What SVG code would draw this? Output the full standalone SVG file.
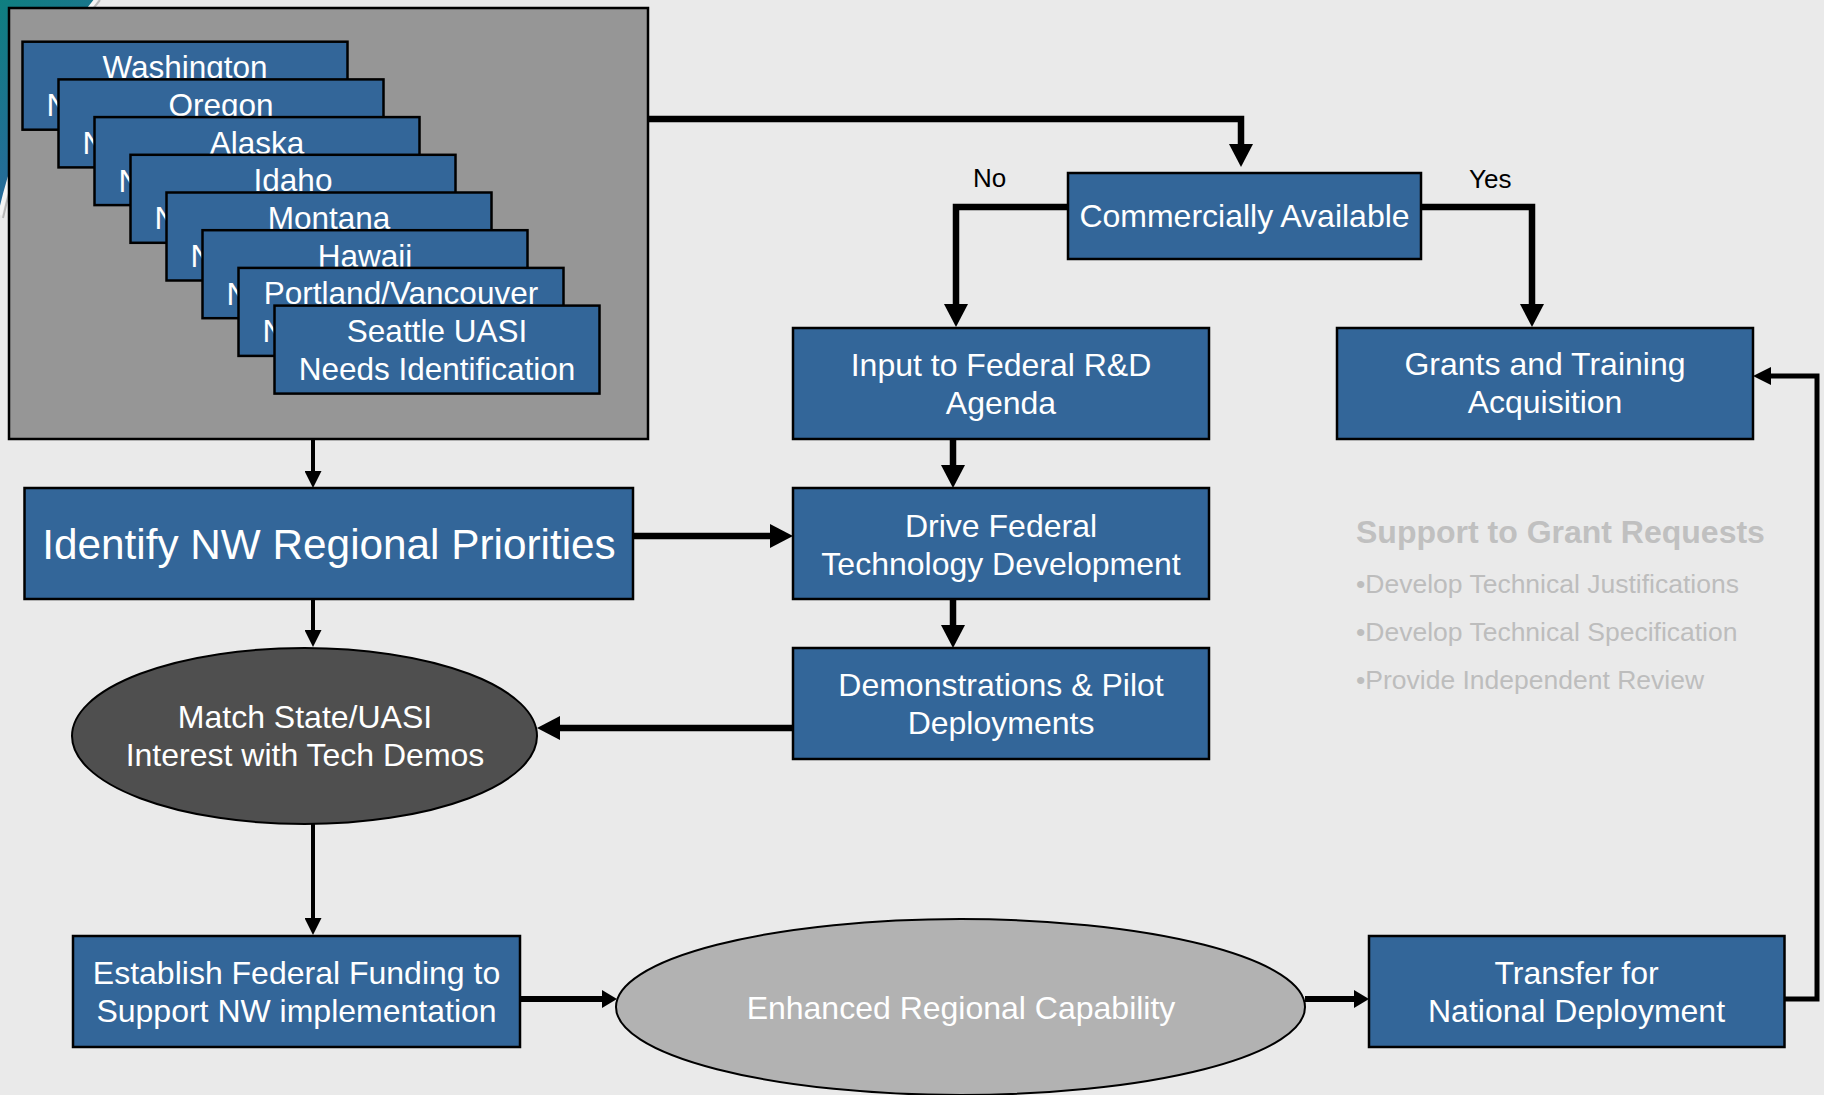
<svg xmlns="http://www.w3.org/2000/svg" width="1824" height="1095" viewBox="0 0 1824 1095">
<style>
  .bg{fill:#eaeaea}
  .box{fill:#336699;stroke:#000;stroke-width:2.5}
  .card{fill:#336699;stroke:#000;stroke-width:2.5}
  .t{font-family:"Liberation Sans",Arial,sans-serif;font-size:32px;fill:#fff;text-anchor:middle}
  .ct{font-family:"Liberation Sans",Arial,sans-serif;font-size:31.5px;fill:#fff;text-anchor:middle}
  .cl{font-family:"Liberation Sans",Arial,sans-serif;font-size:31.5px;fill:#fff}
  .lbl{font-family:"Liberation Sans",Arial,sans-serif;font-size:26px;fill:#000}
  .sup{font-family:"Liberation Sans",Arial,sans-serif;font-size:32px;font-weight:bold;fill:#c0c0c0}
  .bul{font-family:"Liberation Sans",Arial,sans-serif;font-size:26.5px;fill:#bdbdbd}
  .thick{fill:none;stroke:#000;stroke-width:6.5;stroke-linejoin:miter}
  .med{fill:none;stroke:#000;stroke-width:6;stroke-linejoin:miter}
  .thin{fill:none;stroke:#000;stroke-width:4}
  .fb{fill:none;stroke:#000;stroke-width:5;stroke-linejoin:miter}
</style>
<defs>
  <linearGradient id="teal" x1="0" y1="0" x2="0.4" y2="1">
    <stop offset="0" stop-color="#0f7f80"/>
    <stop offset="1" stop-color="#2c66a0"/>
  </linearGradient>
  <marker id="aL" markerUnits="userSpaceOnUse" viewBox="0 0 23 24" markerWidth="23" markerHeight="24" refX="0" refY="12" orient="auto">
    <path d="M0,0 L23,12 L0,24 Z" fill="#000"/>
  </marker>
  <marker id="aM" markerUnits="userSpaceOnUse" viewBox="0 0 15 18" markerWidth="15" markerHeight="18" refX="0" refY="9" orient="auto">
    <path d="M0,0 L15,9 L0,18 Z" fill="#000"/>
  </marker>
  <marker id="aS" markerUnits="userSpaceOnUse" viewBox="0 0 17 17" markerWidth="17" markerHeight="17" refX="0" refY="8.5" orient="auto">
    <path d="M0,0 L17,8.5 L0,17 Z" fill="#000"/>
  </marker>
  <marker id="aF" markerUnits="userSpaceOnUse" viewBox="0 0 18 18" markerWidth="18" markerHeight="18" refX="0" refY="9" orient="auto">
    <path d="M0,0 L18,9 L0,18 Z" fill="#000"/>
  </marker>
</defs>

<rect class="bg" x="0" y="0" width="1824" height="1095"/>
<path d="M0,0 H96 C62,40 16,140 0,215 Z" fill="url(#teal)"/>
<path d="M96,0 C62,40 16,140 0,215" fill="none" stroke="#f4f4f4" stroke-width="4"/>
<path d="M100,0 C66,40 20,140 3,218" fill="none" stroke="#b8b8b8" stroke-width="2"/>

<g id="needs-panel">
  <rect x="9" y="8" width="639" height="431" fill="#969696" stroke="#000" stroke-width="2.5"/>
  <g id="card-washington">
    <rect class="card" x="22.5" y="41.7" width="325" height="88"/>
    <text class="ct" x="185" y="78.2">Washington</text>
    <text class="cl" x="46.5" y="116.2">N</text>
  </g>
  <g id="card-oregon">
    <rect class="card" x="58.5" y="79.4" width="325" height="88"/>
    <text class="ct" x="221" y="115.9">Oregon</text>
    <text class="cl" x="82.5" y="153.9">N</text>
  </g>
  <g id="card-alaska">
    <rect class="card" x="94.5" y="117.1" width="325" height="88"/>
    <text class="ct" x="257" y="153.6">Alaska</text>
    <text class="cl" x="118.5" y="191.6">N</text>
  </g>
  <g id="card-idaho">
    <rect class="card" x="130.5" y="154.8" width="325" height="88"/>
    <text class="ct" x="293" y="191.3">Idaho</text>
    <text class="cl" x="154.5" y="229.3">N</text>
  </g>
  <g id="card-montana">
    <rect class="card" x="166.5" y="192.5" width="325" height="88"/>
    <text class="ct" x="329" y="229">Montana</text>
    <text class="cl" x="190.5" y="267">N</text>
  </g>
  <g id="card-hawaii">
    <rect class="card" x="202.5" y="230.2" width="325" height="88"/>
    <text class="ct" x="365" y="266.7">Hawaii</text>
    <text class="cl" x="226.5" y="304.7">N</text>
  </g>
  <g id="card-portland">
    <rect class="card" x="238.5" y="267.9" width="325" height="88"/>
    <text class="ct" x="401" y="304.4">Portland/Vancouver</text>
    <text class="cl" x="262.5" y="342.4">N</text>
  </g>
  <g id="card-seattle">
    <rect class="card" x="274.5" y="305.6" width="325" height="88"/>
    <text class="ct" x="437" y="342.1">Seattle UASI</text>
    <text class="ct" x="437" y="380.1">Needs Identification</text>
  </g>
</g>

<g id="commercially-available">
  <rect class="box" x="1068" y="173" width="353" height="86"/>
  <text class="t" x="1244.5" y="227">Commercially Available</text>
</g>
<g id="input-federal">
  <rect class="box" x="793" y="328" width="416" height="111"/>
  <text class="t" x="1001" y="376">Input to Federal R&amp;D</text>
  <text class="t" x="1001" y="414">Agenda</text>
</g>
<g id="grants-training">
  <rect class="box" x="1337" y="328" width="416" height="111"/>
  <text class="t" x="1545" y="375">Grants and Training</text>
  <text class="t" x="1545" y="413">Acquisition</text>
</g>
<g id="identify-priorities">
  <rect class="box" x="24.5" y="488" width="608.5" height="111"/>
  <text class="t" x="329" y="559" style="font-size:42.3px">Identify NW Regional Priorities</text>
</g>
<g id="drive-federal">
  <rect class="box" x="793" y="488" width="416" height="111"/>
  <text class="t" x="1001" y="537">Drive Federal</text>
  <text class="t" x="1001" y="575">Technology Development</text>
</g>
<g id="demonstrations">
  <rect class="box" x="793" y="648" width="416" height="111"/>
  <text class="t" x="1001" y="696">Demonstrations &amp; Pilot</text>
  <text class="t" x="1001" y="734">Deployments</text>
</g>
<g id="match-interest">
  <ellipse cx="304.5" cy="736" rx="232.5" ry="88" fill="#4f4f4f" stroke="#000" stroke-width="2"/>
  <text class="t" x="305" y="728">Match State/UASI</text>
  <text class="t" x="305" y="766">Interest with Tech Demos</text>
</g>
<g id="establish-funding">
  <rect class="box" x="73" y="936" width="447" height="111"/>
  <text class="t" x="296.5" y="984">Establish Federal Funding to</text>
  <text class="t" x="296.5" y="1022">Support NW implementation</text>
</g>
<g id="enhanced-capability">
  <ellipse cx="960.5" cy="1007" rx="344.5" ry="88" fill="#b2b2b2" stroke="#000" stroke-width="2"/>
  <text class="t" x="961" y="1019">Enhanced Regional Capability</text>
</g>
<g id="transfer-national">
  <rect class="box" x="1369" y="936" width="415.5" height="111"/>
  <text class="t" x="1576.5" y="984">Transfer for</text>
  <text class="t" x="1576.5" y="1022">National Deployment</text>
</g>

<g id="support-notes">
  <text class="sup" x="1356" y="543">Support to Grant Requests</text>
  <text class="bul" x="1356" y="593">•Develop Technical Justifications</text>
  <text class="bul" x="1356" y="641">•Develop Technical Specification</text>
  <text class="bul" x="1356" y="689">•Provide Independent Review</text>
</g>

<g id="connectors">
  <path class="thick" d="M648,119 H1241 V144" marker-end="url(#aL)"/>
  <path class="thick" d="M1068,207 H956 V304" marker-end="url(#aL)"/>
  <path class="thick" d="M1421,207 H1532 V304" marker-end="url(#aL)"/>
  <path class="thin" d="M313,439 V471" marker-end="url(#aS)"/>
  <path class="thin" d="M313,600 V630" marker-end="url(#aS)"/>
  <path class="thick" d="M633,536 H770" marker-end="url(#aL)"/>
  <path class="thick" d="M953,439 V465" marker-end="url(#aL)"/>
  <path class="thick" d="M953,600 V625" marker-end="url(#aL)"/>
  <path class="thick" d="M793,728 H560" marker-end="url(#aL)"/>
  <path class="thin" d="M313,824 V918" marker-end="url(#aS)"/>
  <path class="med" d="M520,999 H602" marker-end="url(#aM)"/>
  <path class="med" d="M1305,999 H1354" marker-end="url(#aM)"/>
  <path class="fb" d="M1785,999 H1817 V376 H1771" marker-end="url(#aF)"/>
  <text class="lbl" x="973" y="187">No</text>
  <text class="lbl" x="1469" y="188">Yes</text>
</g>
</svg>
